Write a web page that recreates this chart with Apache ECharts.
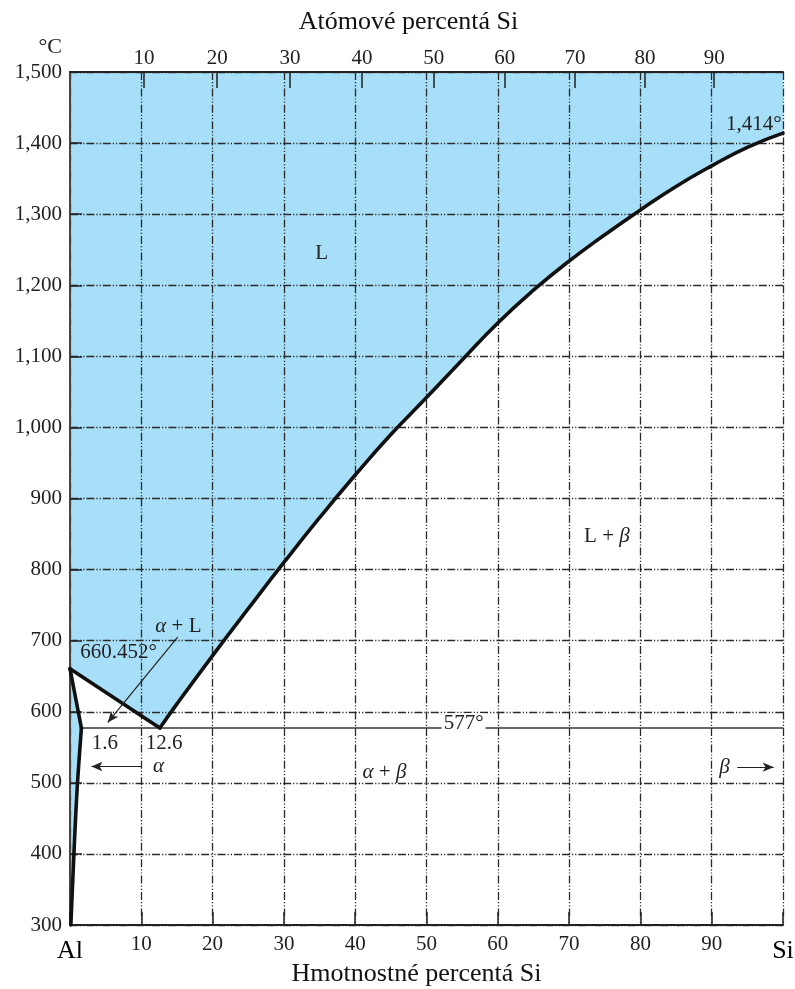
<!DOCTYPE html>
<html>
<head>
<meta charset="utf-8">
<title>Al–Si</title>
<script src="https://cdn.jsdelivr.net/npm/echarts@6/dist/echarts.min.js"></script>
<style>
  html, body { margin: 0; padding: 0; background: #fff; }
  #chart { width: 795px; height: 989px; }
</style>
</head>
<body>
<div id="chart"></div>
<script>
// Al–Si phase diagram: composition in wt.% Si (bottom) and at.% Si (top), temperature in °C.

const SERIF = '"Liberation Serif", "DejaVu Serif", serif';
const BLUE = '#a7dff8';
const INK = '#222';

// Temperature axis ticks
const tempMin = 300, tempMax = 1500, tempStep = 100;

// Atomic-percent tick values shown along the top edge
const atomicTicks = [10, 20, 30, 40, 50, 60, 70, 80, 90];
const massAl = 26.982, massSi = 28.086;

// Phase boundaries, [wt.% Si, °C]
const liquidusAl = [[0, 660.452], [12.6, 577]];
const solidusAl = [[0, 660.452], [1.6, 577]];
const solvusAl = [[1.6, 577], [1.4, 550], [1.05, 500], [0.78, 450], [0.55, 400], [0.33, 350], [0.12, 300]];
const liquidusSi = [
  [12.6, 577], [15, 611], [20, 679], [25, 745], [30, 810], [35, 873], [40, 933],
  [45, 990], [50, 1042], [55, 1095], [60, 1147], [65, 1193], [70, 1234],
  [75, 1271], [80, 1306], [85, 1339], [90, 1368], [95, 1394], [100, 1414]
];
const eutectic = [[1.6, 577], [100, 577]];

// Phase-field labels and point annotations: [text, wt.% Si, °C]
const notes = [
  ['L', 35.3, 1245],
  ['L + {g|β}', 75.3, 846],
  ['{g|α} + L', 15.2, 720],
  ['660.452°', 6.8, 684],
  ['1.6', 4.9, 556],
  ['12.6', 13.2, 556],
  ['{g|α}', 12.4, 523],
  ['{g|α} + {g|β}', 44.1, 515],
  ['{g|β}', 91.8, 522],
  ['577°', 55.2, 583],
  ['1,414°', 95.9, 1426]
];
const taggedOnLine = '577°';

// Pointer arrows: [from, to]
const arrows = [
  [[15.1, 705], [5.3, 585]],
  [[10.0, 523], [3.0, 523]],
  [[93.6, 522], [98.7, 522]]
];

function atomicToWeight(a) {
  const si = a * massSi, al = (100 - a) * massAl;
  return si / (si + al) * 100;
}
function weightToAtomic(w) {
  const si = w / massSi, al = (100 - w) / massAl;
  return si / (si + al) * 100;
}
const topTickPositions = atomicTicks.map(atomicToWeight);

// Shaded single-phase fields: liquid and the α solid solution
const regions = [
  [[0, tempMax], [0, 660.452], ...liquidusSi, [100, tempMax]],
  [[0, 660.452], ...solvusAl, [0, tempMin]]
];

const gridDash = [8, 2, 1.2, 2, 1.2, 2];

function boundary(data, width, color, smooth) {
  return {
    type: 'line', data: data, symbol: 'none', smooth: smooth || false, z: 3,
    lineStyle: { color: color || '#111', width: width || 3.6, cap: 'round', join: 'round' },
    silent: true
  };
}

const chart = echarts.init(document.getElementById('chart'), null, { renderer: 'canvas' });

chart.setOption({
  backgroundColor: '#fff',
  animation: false,
  grid: { left: 70, right: 12, top: 72, bottom: 64, containLabel: false, outerBoundsMode: 'none' },
  xAxis: [
    {
      type: 'value', min: 0, max: 100, interval: 10, position: 'bottom',
      axisLine: { lineStyle: { color: '#222', width: 2 } },
      axisTick: { inside: true, length: 13, lineStyle: { color: '#222', width: 1.5 } },
      axisLabel: {
        margin: 9, fontFamily: SERIF, fontSize: 21, color: INK,
        formatter: v => v === 0 ? '{big|Al}' : (v === 100 ? '{big|Si}' : String(v)),
        rich: { big: { fontFamily: SERIF, fontSize: 26, color: '#000', padding: [4, 0, 0, 0] } }
      },
      splitLine: { show: true, lineStyle: { color: '#2a2a2a', width: 1.3, type: gridDash } },
      name: 'Hmotnostné percentá Si', nameLocation: 'middle', nameGap: 36, nameMoveOverlap: false,
      nameTextStyle: { fontFamily: SERIF, fontSize: 26, color: '#111', padding: [0, 20, 0, 0] }
    },
    {
      type: 'value', min: 0, max: 100, position: 'top',
      axisLine: { lineStyle: { color: '#222', width: 2 } },
      axisTick: { inside: true, length: 16, customValues: topTickPositions, lineStyle: { color: '#222', width: 1.5 } },
      axisLabel: {
        margin: 3, fontFamily: SERIF, fontSize: 21, color: INK,
        customValues: topTickPositions,
        formatter: v => String(Math.round(weightToAtomic(v)))
      },
      splitLine: { show: false },
      name: 'Atómové percentá Si', nameLocation: 'middle', nameGap: 37, nameMoveOverlap: false,
      nameTextStyle: { fontFamily: SERIF, fontSize: 26, color: '#111', padding: [0, 36, 0, 0] }
    }
  ],
  yAxis: [
    {
      type: 'value', min: tempMin, max: tempMax, interval: tempStep,
      axisLine: { lineStyle: { color: '#222', width: 2 } },
      axisTick: { inside: true, length: 12, lineStyle: { color: '#222', width: 1.5 } },
      axisLabel: {
        margin: 8, fontFamily: SERIF, fontSize: 21, color: INK,
        formatter: v => v.toLocaleString('en-US')
      },
      splitLine: { show: true, lineStyle: { color: '#2a2a2a', width: 1.3, type: gridDash } },
      name: '°C', nameLocation: 'end', nameGap: 14, nameMoveOverlap: false,
      nameTextStyle: { fontFamily: SERIF, fontSize: 22, color: INK, align: 'right', padding: [0, 8, 0, 0] }
    },
    {
      type: 'value', min: tempMin, max: tempMax, position: 'right',
      axisLine: { show: true, lineStyle: { color: '#444', width: 2 } },
      axisTick: { show: false }, axisLabel: { show: false }, splitLine: { show: false }
    }
  ],
  series: [
    {
      type: 'custom', z: -1, silent: true,
      data: regions.map(r => r[0]),
      renderItem: (params, api) => ({
        type: 'polygon',
        shape: { points: regions[params.dataIndex].map(p => api.coord(p)), smooth: 0 },
        style: { fill: BLUE }
      })
    },
    boundary(eutectic, 1.5, '#3a3a3a'),
    boundary(liquidusAl),
    boundary(solidusAl),
    boundary(solvusAl, 3.6, '#111', 0.3),
    boundary(liquidusSi, 3.6, '#111', 0.5),
    {
      type: 'line', data: [], silent: true,
      markLine: {
        silent: true, animation: false,
        symbol: ['none', 'arrow'], symbolSize: [7, 11],
        lineStyle: { color: '#222', width: 1.2, type: 'solid' },
        label: { show: false },
        emphasis: { disabled: true },
        data: arrows.map(a => [{ coord: a[0] }, { coord: a[1] }])
      }
    },
    {
      type: 'scatter', z: 5, silent: true,
      symbol: 'circle', symbolSize: 0,
      itemStyle: { color: INK, opacity: 1 },
      data: notes.map(n => n[0] === taggedOnLine
        ? { name: n[0], value: [n[1], n[2]], label: { backgroundColor: '#fff', padding: [0, 2] } }
        : { name: n[0], value: [n[1], n[2]] }),
      label: {
        show: true, position: 'inside',
        align: 'center', verticalAlign: 'middle',
        fontFamily: SERIF, fontSize: 21, color: INK, opacity: 1,
        textBorderWidth: 0,
        formatter: p => p.name,
        rich: { g: { fontFamily: SERIF, fontSize: 21, fontStyle: 'italic', color: INK } }
      }
    }
  ]
});
</script>
</body>
</html>
